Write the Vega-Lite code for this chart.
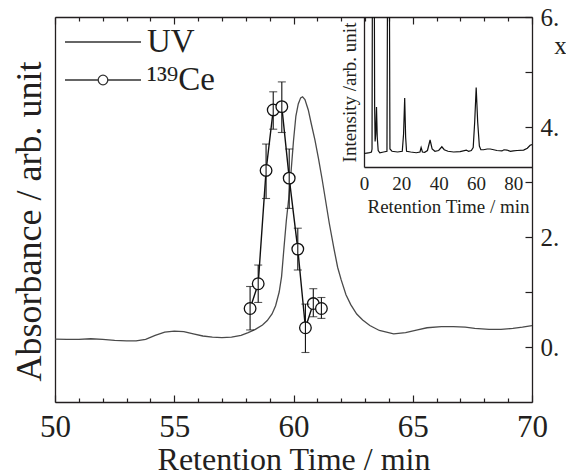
{
  "$schema": "https://vega.github.io/schema/vega-lite/v6.json",
  "width": 477,
  "height": 385,
  "autosize": {"type": "none"},
  "padding": {"left": 55, "top": 17, "right": 34, "bottom": 74},
  "background": "white",
  "config": {
    "view": {"stroke": null},
    "font": "Liberation Serif",
    "axis": {
      "domainColor": "#231f20", "domainWidth": 1.3,
      "tickColor": "#231f20", "tickWidth": 1.2,
      "labelColor": "#231f20", "titleColor": "#231f20",
      "labelFont": "Liberation Serif", "titleFont": "Liberation Serif",
      "titleFontWeight": "normal", "grid": false,
      "labelFlush": false, "labelOverlap": false
    }
  },
  "datasets": {
    "uv": [
      {"t": 50.0, "a": 0.145}, {"t": 50.5, "a": 0.14}, {"t": 51.0, "a": 0.14}, {"t": 51.5, "a": 0.15},
      {"t": 52.0, "a": 0.14}, {"t": 52.5, "a": 0.12}, {"t": 53.0, "a": 0.11}, {"t": 53.4, "a": 0.11},
      {"t": 53.8, "a": 0.14}, {"t": 54.2, "a": 0.21}, {"t": 54.6, "a": 0.27}, {"t": 55.0, "a": 0.29},
      {"t": 55.4, "a": 0.28}, {"t": 55.8, "a": 0.24}, {"t": 56.2, "a": 0.2}, {"t": 56.6, "a": 0.18},
      {"t": 57.0, "a": 0.17}, {"t": 57.4, "a": 0.18}, {"t": 57.8, "a": 0.21}, {"t": 58.1, "a": 0.26},
      {"t": 58.4, "a": 0.32}, {"t": 58.7, "a": 0.4}, {"t": 58.9, "a": 0.48}, {"t": 59.1, "a": 0.6},
      {"t": 59.25, "a": 0.75}, {"t": 59.4, "a": 1.0}, {"t": 59.5, "a": 1.28}, {"t": 59.6, "a": 1.8},
      {"t": 59.7, "a": 2.3}, {"t": 59.8, "a": 2.7}, {"t": 59.9, "a": 3.2}, {"t": 60.0, "a": 3.75},
      {"t": 60.1, "a": 4.2}, {"t": 60.2, "a": 4.42}, {"t": 60.3, "a": 4.53}, {"t": 60.38, "a": 4.55},
      {"t": 60.48, "a": 4.5}, {"t": 60.62, "a": 4.31}, {"t": 60.75, "a": 4.05}, {"t": 60.9, "a": 3.76},
      {"t": 61.05, "a": 3.42}, {"t": 61.2, "a": 3.05}, {"t": 61.35, "a": 2.65}, {"t": 61.5, "a": 2.25},
      {"t": 61.7, "a": 1.78}, {"t": 61.85, "a": 1.45}, {"t": 62.0, "a": 1.22}, {"t": 62.2, "a": 0.95},
      {"t": 62.4, "a": 0.77}, {"t": 62.65, "a": 0.6}, {"t": 62.9, "a": 0.49}, {"t": 63.2, "a": 0.39},
      {"t": 63.6, "a": 0.3}, {"t": 64.2, "a": 0.24}, {"t": 64.7, "a": 0.26}, {"t": 65.2, "a": 0.31},
      {"t": 65.6, "a": 0.35}, {"t": 66.2, "a": 0.37}, {"t": 66.7, "a": 0.37}, {"t": 67.2, "a": 0.36},
      {"t": 67.6, "a": 0.34}, {"t": 68.2, "a": 0.32}, {"t": 68.7, "a": 0.32}, {"t": 69.2, "a": 0.34},
      {"t": 69.6, "a": 0.36}, {"t": 70.0, "a": 0.39}
    ],
    "ce": [
      {"t": 58.18, "v": 0.70, "lo": 0.31, "hi": 1.10},
      {"t": 58.52, "v": 1.15, "lo": 0.81, "hi": 1.49},
      {"t": 58.85, "v": 3.21, "lo": 2.70, "hi": 3.69},
      {"t": 59.15, "v": 4.31, "lo": 3.96, "hi": 4.64},
      {"t": 59.51, "v": 4.37, "lo": 3.90, "hi": 4.82},
      {"t": 59.82, "v": 3.07, "lo": 2.52, "hi": 3.60},
      {"t": 60.18, "v": 1.78, "lo": 1.40, "hi": 2.16},
      {"t": 60.50, "v": 0.35, "lo": -0.10, "hi": 0.78},
      {"t": 60.83, "v": 0.79, "lo": 0.55, "hi": 1.06},
      {"t": 61.17, "v": 0.70, "lo": 0.52, "hi": 0.90}
    ],
    "inset": [
      {"t": 0, "i": 9.0}, {"t": 1.5, "i": 9.3}, {"t": 3.0, "i": 9.6}, {"t": 4.0, "i": 10},
      {"t": 4.3, "i": 12}, {"t": 4.6, "i": 180}, {"t": 5.0, "i": 260}, {"t": 5.4, "i": 180},
      {"t": 5.7, "i": 40}, {"t": 5.95, "i": 17}, {"t": 6.3, "i": 22}, {"t": 6.7, "i": 40},
      {"t": 7.1, "i": 20}, {"t": 7.6, "i": 11}, {"t": 8.5, "i": 9.5}, {"t": 10.5, "i": 10},
      {"t": 12.3, "i": 10.5}, {"t": 12.7, "i": 160}, {"t": 13.1, "i": 260}, {"t": 13.5, "i": 160},
      {"t": 13.9, "i": 12}, {"t": 15, "i": 10.5}, {"t": 18, "i": 10}, {"t": 20.5, "i": 10.5},
      {"t": 21.2, "i": 22}, {"t": 21.8, "i": 46}, {"t": 22.3, "i": 20}, {"t": 22.8, "i": 10.5},
      {"t": 25, "i": 10}, {"t": 28, "i": 9.5}, {"t": 30, "i": 10}, {"t": 30.6, "i": 13},
      {"t": 31.3, "i": 10}, {"t": 32.5, "i": 9.8}, {"t": 34, "i": 11}, {"t": 35.4, "i": 18},
      {"t": 36.5, "i": 12}, {"t": 38, "i": 10.5}, {"t": 40, "i": 11}, {"t": 41.7, "i": 13.5},
      {"t": 43, "i": 11.5}, {"t": 45, "i": 10.5}, {"t": 48, "i": 10}, {"t": 51.5, "i": 10.2},
      {"t": 54.8, "i": 11.3}, {"t": 56, "i": 10.5}, {"t": 57.5, "i": 11}, {"t": 58.5, "i": 13},
      {"t": 59.3, "i": 30}, {"t": 60.1, "i": 53}, {"t": 60.9, "i": 30}, {"t": 61.8, "i": 14},
      {"t": 62.6, "i": 11.5}, {"t": 64, "i": 11.5}, {"t": 66, "i": 12}, {"t": 67.6, "i": 12},
      {"t": 69.5, "i": 11.5}, {"t": 71.2, "i": 11}, {"t": 73.9, "i": 10.7}, {"t": 75, "i": 11.5},
      {"t": 76.6, "i": 11.3}, {"t": 78.4, "i": 10.4}, {"t": 80, "i": 10.8}, {"t": 82, "i": 11},
      {"t": 85.5, "i": 11.3}, {"t": 87.5, "i": 12.5}, {"t": 89, "i": 14.5}, {"t": 90, "i": 15}
    ]
  },
  "layer": [
    {
      "resolve": {"axis": {"x": "independent", "y": "independent"}},
      "layer": [
        {
          "data": {"name": "uv"},
          "mark": {"type": "line", "color": "#4a4a4a", "strokeWidth": 1.3, "clip": true},
          "encoding": {
            "x": {
              "field": "t", "type": "quantitative",
              "scale": {"domain": [50, 70], "nice": false, "zero": false},
              "axis": {
                "orient": "bottom",
                "values": [50,51,52,53,54,55,56,57,58,59,60,61,62,63,64,65,66,67,68,69,70],
                "labelExpr": "datum.value % 5 === 0 ? datum.label : ''",
                "tickSize": {"condition": {"test": "datum.value % 5 === 0", "value": -7}, "value": -4},
                "labelPadding": 17, "labelFontSize": 31,
                "title": "Retention Time / min", "titleFontSize": 32,
                "titleBaseline": "alphabetic", "titleY": 67
              }
            },
            "y": {
              "field": "a", "type": "quantitative",
              "scale": {"domain": [-1, 6], "nice": false, "zero": false},
              "axis": {
                "orient": "left", "ticks": false, "labels": false,
                "title": "Absorbance / arb. unit", "titleFontSize": 36,
                "titlePadding": 7, "titleY": 204
              }
            }
          }
        },
        {
          "data": {"name": "ce"},
          "mark": {"type": "line", "color": "#111111", "strokeWidth": 1.4},
          "encoding": {
            "x": {
              "field": "t", "type": "quantitative",
              "axis": {
                "orient": "top",
                "values": [50,51,52,53,54,55,56,57,58,59,60,61,62,63,64,65,66,67,68,69,70],
                "labels": false,
                "tickSize": {"condition": {"test": "datum.value % 5 === 0", "value": -7}, "value": -4},
                "title": null
              }
            },
            "y": {
              "field": "v", "type": "quantitative",
              "axis": {
                "orient": "right", "values": [0,1,2,3,4,5,6], "tickSize": -7,
                "labelPadding": 15,
                "labelExpr": "datum.value % 2 === 0 ? datum.value + '.' : ''",
                "labelFontSize": 25, "labelBaseline": "middle",
                "title": "x", "titleAngle": 0, "titleX": 28, "titleY": 28,
                "titleAlign": "center", "titleBaseline": "middle", "titleFontSize": 25
              }
            }
          }
        },
        {
          "data": {"name": "ce"},
          "mark": {"type": "point", "shape": "circle", "filled": true, "fill": "white", "stroke": "#111111", "strokeWidth": 1.3, "size": 135, "opacity": 1},
          "encoding": {
            "x": {"field": "t", "type": "quantitative", "axis": null},
            "y": {"field": "v", "type": "quantitative", "axis": null}
          }
        },
        {
          "data": {"name": "ce"},
          "mark": {"type": "errorbar", "ticks": {"size": 8, "color": "#111111", "thickness": 1.1}, "rule": {"color": "#111111", "strokeWidth": 1.1}},
          "encoding": {
            "x": {"field": "t", "type": "quantitative", "axis": null},
            "y": {"field": "lo", "type": "quantitative", "axis": null},
            "y2": {"field": "hi"}
          }
        },
        {
          "data": {"values": []},
          "mark": {"type": "point", "color": "#333333", "strokeWidth": 1.3},
          "encoding": {
            "shape": {
              "datum": "UV", "type": "nominal",
              "scale": {
                "domain": ["UV", "¹³⁹Ce"],
                "range": ["M-1.9,0H1.9", "M-1.9,0H-0.24M0.24,0H1.9M-0.24,0A0.24,0.24,0,1,1,0.24,0A0.24,0.24,0,1,1,-0.24,0Z"]
              },
              "legend": {
                "orient": "none", "legendX": 27, "legendY": 4, "title": null,
                "symbolSize": 1600,
                "symbolStrokeColor": "#333333", "symbolFillColor": "white", "symbolStrokeWidth": 1.3,
                "symbolOpacity": 1,
                "labelFont": "Liberation Serif", "labelFontSize": 33, "labelColor": "#231f20",
                "labelOffset": 23, "rowPadding": 0, "padding": 0, "labelLimit": 300
              }
            }
          }
        }
      ]
    },
    {
      "data": {"name": "inset"},
      "mark": {"type": "line", "color": "#111111", "strokeWidth": 1.2, "clip": true},
      "encoding": {
        "x": {
          "field": "t", "type": "quantitative",
          "scale": {"domain": [0, 90], "range": [309, 477], "nice": false, "zero": false},
          "axis": {
            "orient": "bottom", "offset": -235, "values": [0, 20, 40, 60, 80],
            "ticks": false, "labelPadding": 7, "labelFontSize": 19,
            "title": "Retention Time / min", "titleFontSize": 19, "titlePadding": 4
          }
        },
        "y": {
          "field": "i", "type": "quantitative",
          "scale": {"domain": [0, 100], "range": [150, 0], "nice": false, "zero": false},
          "axis": {
            "orient": "left", "offset": -309, "ticks": false, "labels": false,
            "title": "Intensity /arb. unit", "titleFontSize": 19, "titlePadding": 5
          }
        }
      }
    }
  ],
  "resolve": {"scale": {"x": "independent", "y": "independent"}}
}
